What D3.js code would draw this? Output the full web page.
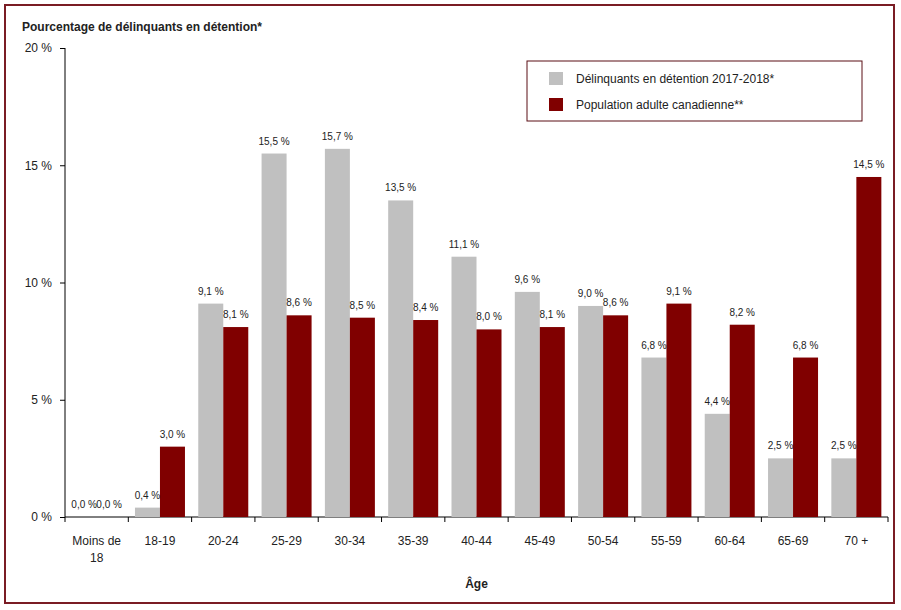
<!DOCTYPE html>
<html>
<head>
<meta charset="utf-8">
<script src="https://cdn.jsdelivr.net/npm/d3@7"></script>
<style>
  body { margin: 0; background: #fff; }
  svg { display: block; font-family: 'Liberation Sans', Arial, sans-serif; }
</style>
</head>
<body>
<div id="chart"></div>
<script>
// --- Data ---
const categories = ['Moins de 18', '18-19', '20-24', '25-29', '30-34', '35-39', '40-44',
    '45-49', '50-54', '55-59', '60-64', '65-69', '70 +'];
const seriesNames = ['Délinquants en détention 2017-2018*', 'Population adulte canadienne**'];
const detenus = [0.0, 0.4, 9.1, 15.5, 15.7, 13.5, 11.1, 9.6, 9.0, 6.8, 4.4, 2.5, 2.5];
const population = [0.0, 3.0, 8.1, 8.6, 8.5, 8.4, 8.0, 8.1, 8.6, 9.1, 8.2, 6.8, 14.5];
const yTicks = [0, 5, 10, 15, 20];
const colors = ['#c0c0c0', '#800000'];

const W = 901, H = 610;
const plot = { left: 65, right: 888, top: 48, bottom: 517 };

const svg = d3.select('#chart').append('svg')
    .attr('width', W)
    .attr('height', H);

// outer frame
svg.append('rect')
    .attr('x', 5).attr('y', 5)
    .attr('width', 889).attr('height', 598)
    .attr('fill', 'none')
    .attr('stroke', '#7a1c24')
    .attr('stroke-width', 2);

const fmt = v => v.toFixed(1).replace('.', ',') + ' %';

const x0 = d3.scaleBand()
    .domain(categories)
    .range([plot.left, plot.right])
    .padding(0);

const x1 = d3.scaleBand()
    .domain([0, 1])
    .range([0, x0.bandwidth()])
    .paddingInner(0)
    .paddingOuter(0.266);

const y = d3.scaleLinear()
    .domain([0, 20])
    .range([plot.bottom, plot.top]);

// Y axis
const yAxis = svg.append('g')
    .attr('transform', `translate(${plot.left},0)`)
    .call(d3.axisLeft(y).tickValues(yTicks).tickSize(5).tickPadding(8)
        .tickFormat(d => d + ' %'));
yAxis.select('.domain').attr('stroke', '#000').attr('d', `M0,${plot.top}V${plot.bottom}`);
yAxis.selectAll('text')
    .style('font-size', '12px')
    .style('font-family', 'Liberation Sans, Arial, sans-serif')
    .attr('fill', '#222');

// X axis line and boundary ticks
const xg = svg.append('g');
xg.append('line')
    .attr('x1', plot.left).attr('x2', plot.right)
    .attr('y1', y(0)).attr('y2', y(0))
    .attr('stroke', '#000');
const bounds = categories.map(c => x0(c)).concat([x0.range()[1]]);
xg.selectAll('.xt')
    .data(bounds)
    .enter()
    .append('line')
    .attr('x1', d => d).attr('x2', d => d)
    .attr('y1', y(0)).attr('y2', y(0) + 5)
    .attr('stroke', '#000');

// category labels
xg.selectAll('.xl')
    .data(categories)
    .enter()
    .append('text')
    .attr('text-anchor', 'middle')
    .attr('font-size', 12)
    .attr('fill', '#222')
    .attr('x', d => x0(d) + x0.bandwidth() / 2)
    .attr('y', y(0) + 28)
    .each(function (d) {
        const lines = d === 'Moins de 18' ? ['Moins de', '18'] : [d];
        lines.forEach((t, i) => {
            d3.select(this).append('tspan')
                .attr('x', x0(d) + x0.bandwidth() / 2)
                .attr('dy', i === 0 ? 0 : 17)
                .text(t);
        });
    });

// Bars
const rows = categories.map((c, i) => ({ cat: c, vals: [detenus[i], population[i]] }));
const groups = svg.selectAll('.grp')
    .data(rows)
    .enter()
    .append('g')
    .attr('transform', d => `translate(${x0(d.cat)},0)`);

groups.selectAll('rect')
    .data(d => d.vals.map((v, s) => ({ v, s })))
    .enter()
    .append('rect')
    .attr('x', d => x1(d.s))
    .attr('width', x1.bandwidth())
    .attr('y', d => y(d.v))
    .attr('height', d => y(0) - y(d.v))
    .attr('fill', d => colors[d.s]);

groups.selectAll('text')
    .data(d => d.vals.map((v, s) => ({ v, s })))
    .enter()
    .append('text')
    .attr('text-anchor', 'middle')
    .attr('font-size', 10)
    .attr('fill', '#222')
    .attr('x', d => x1(d.s) + x1.bandwidth() / 2)
    .attr('y', d => y(d.v) - 9)
    .text(d => fmt(d.v));

// Titles
svg.append('text')
    .attr('x', 22).attr('y', 31)
    .attr('font-size', 12)
    .attr('font-weight', 'bold')
    .attr('fill', '#222')
    .text('Pourcentage de délinquants en détention*');

svg.append('text')
    .attr('x', (plot.left + plot.right) / 2).attr('y', 588)
    .attr('text-anchor', 'middle')
    .attr('font-size', 12)
    .attr('font-weight', 'bold')
    .attr('fill', '#222')
    .text('Âge');

// Legend
const lg = svg.append('g').attr('transform', 'translate(527,61)');
lg.append('rect')
    .attr('width', 335).attr('height', 60)
    .attr('fill', '#fff')
    .attr('stroke', '#5a0f14')
    .attr('stroke-width', 1);
seriesNames.forEach((name, i) => {
    lg.append('rect')
        .attr('x', 22).attr('y', 11 + i * 26)
        .attr('width', 14).attr('height', 13)
        .attr('fill', colors[i]);
    lg.append('text')
        .attr('x', 49).attr('y', 22 + i * 26)
        .attr('font-size', 12)
        .attr('fill', '#222')
        .text(name);
});
</script>
</body>
</html>
